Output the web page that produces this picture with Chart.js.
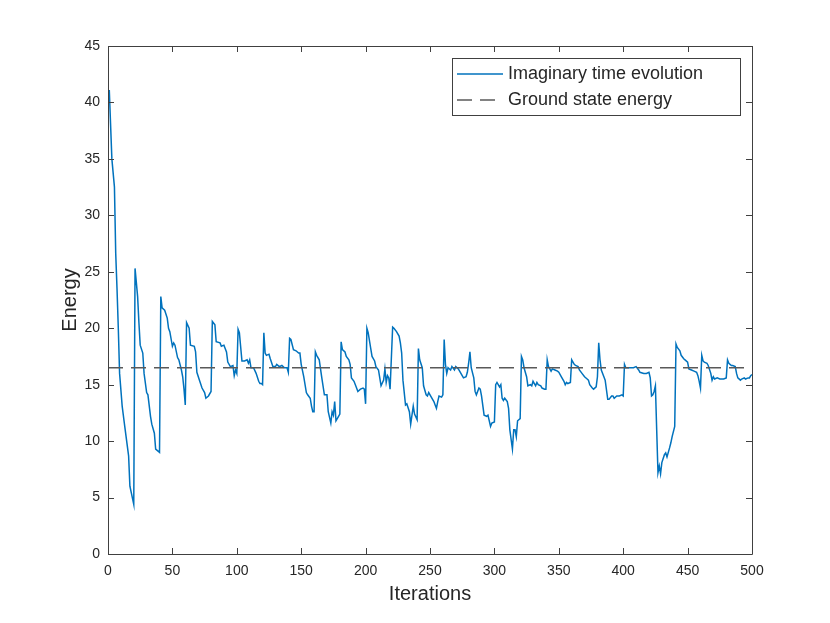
<html>
  <head>
    <script src="https://cdn.jsdelivr.net/npm/chart.js@4.4.1/dist/chart.umd.min.js"></script>
    <style>
      body { margin: 0; background: #fff; }
    </style>
  </head>
  <body>
    <canvas id="energyChart" width="830" height="623"></canvas>
    <script>
      // values
      let iterations = [
        1, 3, 5, 6, 7, 8, 9, 11, 13, 16, 17, 20, 21, 23, 24, 25, 27, 28, 30, 31,
        33, 34, 36, 37, 40, 41, 42, 44, 46, 47, 48, 50, 51, 52, 54, 55, 57, 58, 59, 60,
        61, 63, 64, 67, 68, 69, 71, 73, 75, 76, 78, 80, 81, 83, 84, 87, 88, 90, 92, 93,
        95, 97, 98, 99, 100, 101, 102, 104, 106, 108, 109, 110, 111, 113, 115, 117, 118, 119, 120, 121,
        122, 123, 125, 126, 128, 130, 131, 133, 135, 137, 139, 140, 141, 142, 144, 146, 148, 149, 150, 152,
        154, 155, 157, 158, 159, 160, 161, 162, 164, 166, 168, 170, 171, 173, 174, 175, 176, 177, 179, 180,
        181, 182, 184, 185, 187, 188, 189, 191, 193, 194, 196, 198, 199, 200, 201, 202, 204, 205, 207, 208,
        210, 211, 212, 214, 215, 216, 217, 218, 219, 221, 222, 224, 226, 227, 228, 229, 231, 232, 234, 235,
        237, 238, 240, 241, 242, 244, 245, 247, 248, 249, 251, 253, 254, 255, 256, 257, 259, 260, 261, 262,
        263, 264, 266, 267, 269, 270, 272, 273, 275, 276, 278, 279, 280, 281, 282, 284, 285, 286, 288, 289,
        290, 292, 294, 295, 297, 298, 300, 301, 302, 304, 305, 306, 307, 308, 310, 311, 312, 314, 315, 316,
        317, 318, 320, 321, 322, 323, 325, 326, 328, 329, 330, 332, 333, 334, 336, 337, 339, 340, 341, 342,
        344, 345, 347, 349, 350, 352, 354, 355, 356, 357, 359, 360, 362, 363, 365, 366, 368, 370, 372, 373,
        374, 376, 377, 379, 380, 381, 382, 383, 385, 386, 388, 389, 391, 392, 393, 395, 397, 399, 400, 401,
        402, 404, 406, 408, 410, 412, 413, 416, 418, 420, 421, 422, 423, 424, 425, 426, 427, 428, 429, 430,
        432, 433, 434, 436, 437, 438, 440, 441, 442, 444, 445, 447, 448, 450, 451, 453, 455, 457, 458, 459,
        460, 461, 462, 463, 465, 466, 468, 469, 470, 471, 473, 475, 477, 478, 480, 481, 482, 484, 485, 487,
        488, 489, 491, 492, 494, 495, 497, 498, 499, 500
      ];
      let energy = [
        41.1, 35.0, 32.5, 26.6, 23.5, 20.0, 16.0, 13.1, 11.3, 8.7, 6.0, 4.4, 25.3, 22.8, 20.5, 18.5, 17.8, 16.0, 14.3, 14.1,
        12.2, 11.5, 10.7, 9.3, 9.0, 22.8, 21.8, 21.6, 20.9, 20.0, 19.7, 18.4, 18.7, 18.5, 17.4, 17.2, 16.3, 15.7, 14.6, 13.2,
        20.5, 20.0, 18.5, 18.4, 17.9, 16.1, 15.4, 14.7, 14.3, 13.8, 14.0, 14.4, 20.6, 20.3, 18.8, 18.7, 18.4, 18.5, 17.9, 17.0,
        16.6, 16.7, 15.8, 16.3, 16.0, 19.9, 19.6, 17.1, 17.1, 17.2, 16.9, 17.2, 16.5, 16.5, 16.0, 15.3, 15.1, 15.1, 15.0, 19.6,
        17.8, 17.6, 17.7, 17.3, 16.6, 16.6, 16.8, 16.6, 16.7, 16.5, 16.5, 16.1, 19.1, 19.0, 18.1, 18.0, 17.8, 17.8, 16.8, 15.7,
        14.3, 14.1, 13.8, 13.1, 12.6, 12.6, 17.9, 17.6, 17.2, 15.6, 14.1, 14.1, 12.6, 11.6, 12.6, 12.3, 13.5, 11.8, 12.2, 12.4,
        18.8, 18.1, 17.9, 17.5, 17.2, 16.8, 15.6, 15.3, 14.7, 14.4, 14.6, 14.7, 14.6, 13.3, 20.0, 19.6, 18.2, 17.5, 17.1, 16.6,
        16.3, 15.6, 14.9, 15.4, 16.4, 15.2, 15.8, 15.6, 14.6, 20.1, 20.0, 19.7, 19.3, 18.7, 17.8, 15.4, 13.2, 13.3, 12.6, 11.5,
        13.1, 12.4, 11.9, 18.2, 17.2, 16.5, 14.9, 14.1, 14.0, 14.3, 13.9, 13.5, 13.2, 12.9, 13.5, 14.0, 13.9, 14.1, 19.0, 16.8,
        16.0, 16.5, 16.3, 16.6, 16.3, 16.6, 16.4, 16.2, 15.8, 15.6, 15.7, 16.1, 16.9, 17.9, 16.5, 15.6, 14.4, 14.1, 14.7, 14.6,
        14.0, 12.3, 12.2, 12.3, 11.3, 11.6, 11.7, 15.0, 15.2, 14.8, 15.0, 13.8, 13.6, 13.8, 13.5, 12.9, 11.0, 9.3, 11.0, 11.0,
        10.4, 11.8, 12.0, 17.5, 17.2, 16.5, 15.7, 14.9, 15.0, 14.9, 15.3, 14.9, 15.2, 15.0, 14.9, 14.7, 14.6, 14.6, 17.2, 16.6,
        16.2, 16.4, 16.3, 16.2, 16.1, 15.7, 15.3, 15.0, 15.2, 15.1, 15.2, 17.2, 16.8, 16.7, 16.6, 16.3, 16.0, 15.7, 15.5, 15.4,
        15.0, 14.7, 14.6, 14.8, 15.7, 18.7, 17.2, 16.3, 15.7, 15.4, 13.7, 13.7, 14.0, 14.0, 13.8, 14.0, 14.0, 14.1, 14.0, 16.8,
        16.5, 16.5, 16.5, 16.5, 16.6, 16.3, 16.1, 16.0, 16.0, 16.1, 15.6, 14.0, 14.1, 14.4, 14.9, 11.0, 7.2, 7.8, 7.1, 8.1,
        8.8, 8.95, 8.6, 9.4, 9.85, 10.4, 11.3, 18.6, 18.3, 18.0, 17.6, 17.3, 17.2, 17.0, 16.4, 16.3, 16.2, 16.1, 15.8, 15.3,
        14.7, 17.6, 17.1, 17.0, 16.9, 16.7, 16.0, 15.4, 15.7, 15.5, 15.6, 15.5, 15.5, 15.5, 15.6, 17.2, 16.9, 16.7, 16.7, 16.6,
        16.0, 15.6, 15.4, 15.5, 15.6, 15.5, 15.6, 15.6, 15.8, 15.9
      ];
      let groundIters = [0, 500];
      let groundEnergy = [16.5, 16.5];
      let seriesNames = ['Imaginary time evolution', 'Ground state energy'];

      const fontFamily = '"Liberation Sans", Arial, sans-serif';
      const axisColor = '#404040';
      const textColor = '#262626';

      // box round the plot with ticks pointing inwards, like matlab does it
      const boxAxes = {
        id: 'boxAxes',
        afterDatasetsDraw(chart) {
          const ctx = chart.ctx;
          const a = chart.chartArea;
          const xs = chart.scales.x, ys = chart.scales.y;
          const len = 6;
          ctx.save();
          ctx.strokeStyle = axisColor;
          ctx.lineWidth = 1;
          ctx.beginPath();
          ctx.rect(a.left + 0.5, a.top + 0.5, a.right - a.left, a.bottom - a.top);
          xs.ticks.forEach(t => {
            let px = Math.round(xs.getPixelForValue(t.value)) + 0.5;
            ctx.moveTo(px, a.bottom); ctx.lineTo(px, a.bottom - len);
            ctx.moveTo(px, a.top); ctx.lineTo(px, a.top + len);
          });
          ys.ticks.forEach(t => {
            let py = Math.round(ys.getPixelForValue(t.value)) + 0.5;
            ctx.moveTo(a.left, py); ctx.lineTo(a.left + len, py);
            ctx.moveTo(a.right, py); ctx.lineTo(a.right - len, py);
          });
          ctx.stroke();
          ctx.restore();
        }
      };

      // legend box in the upper right corner
      const boxLegend = {
        id: 'boxLegend',
        afterDraw(chart) {
          const ctx = chart.ctx;
          const x0 = 452, y0 = 58, w = 288, h = 57;
          ctx.save();
          ctx.fillStyle = '#fff';
          ctx.fillRect(x0, y0, w, h);
          ctx.strokeStyle = axisColor;
          ctx.lineWidth = 1;
          ctx.strokeRect(x0 + 0.5, y0 + 0.5, w, h);
          chart.data.datasets.forEach((ds, i) => {
            let cy = y0 + 16 + i * 26;
            ctx.beginPath();
            ctx.strokeStyle = ds.borderColor;
            ctx.lineWidth = ds.borderWidth;
            ctx.setLineDash(ds.borderDash || []);
            ctx.moveTo(457, cy); ctx.lineTo(503, cy);
            ctx.stroke();
            ctx.setLineDash([]);
            ctx.fillStyle = textColor;
            ctx.font = '18px ' + fontFamily;
            ctx.textBaseline = 'middle';
            ctx.fillText(ds.label, 508, cy);
          });
          ctx.restore();
        }
      };

      window.onload = function() {
        window.energyChart = new Chart(document.getElementById('energyChart'), {
          type: 'line',
          data: {
            datasets: [{
              label: seriesNames[0],
              data: iterations.map((it, i) => ({x: it, y: energy[i]})),
              borderColor: '#0072BD',
              borderWidth: 1.5,
              pointRadius: 0,
              tension: 0,
              order: 1
            }, {
              label: seriesNames[1],
              data: groundIters.map((it, i) => ({x: it, y: groundEnergy[i]})),
              borderColor: '#595959',
              borderWidth: 1.5,
              borderDash: [15, 8],
              pointRadius: 0,
              order: 0
            }]
          },
          options: {
            responsive: false,
            animation: false,
            layout: {
              padding: {left: 0, right: 78, top: 46, bottom: 0}
            },
            plugins: {
              legend: {display: false},
              tooltip: {enabled: false}
            },
            scales: {
              x: {
                type: 'linear',
                min: 0,
                max: 500,
                afterFit: s => { s.height = 69; },
                grid: {display: false, drawTicks: false},
                border: {display: false},
                ticks: {
                  stepSize: 50,
                  autoSkip: false,
                  maxRotation: 0,
                  padding: 9,
                  color: textColor,
                  font: {family: fontFamily, size: 14}
                },
                title: {
                  display: true,
                  text: 'Iterations',
                  color: textColor,
                  padding: {top: 0, bottom: 17},
                  font: {family: fontFamily, size: 20}
                }
              },
              y: {
                min: 0,
                max: 45,
                afterFit: s => { s.width = 108; },
                grid: {display: false, drawTicks: false},
                border: {display: false},
                ticks: {
                  stepSize: 5,
                  padding: 8,
                  color: textColor,
                  font: {family: fontFamily, size: 14}
                },
                title: {
                  display: true,
                  text: 'Energy',
                  color: textColor,
                  padding: {top: 58, bottom: 0},
                  font: {family: fontFamily, size: 20}
                }
              }
            }
          },
          plugins: [boxAxes, boxLegend]
        });
      };
    </script>
  </body>
</html>
